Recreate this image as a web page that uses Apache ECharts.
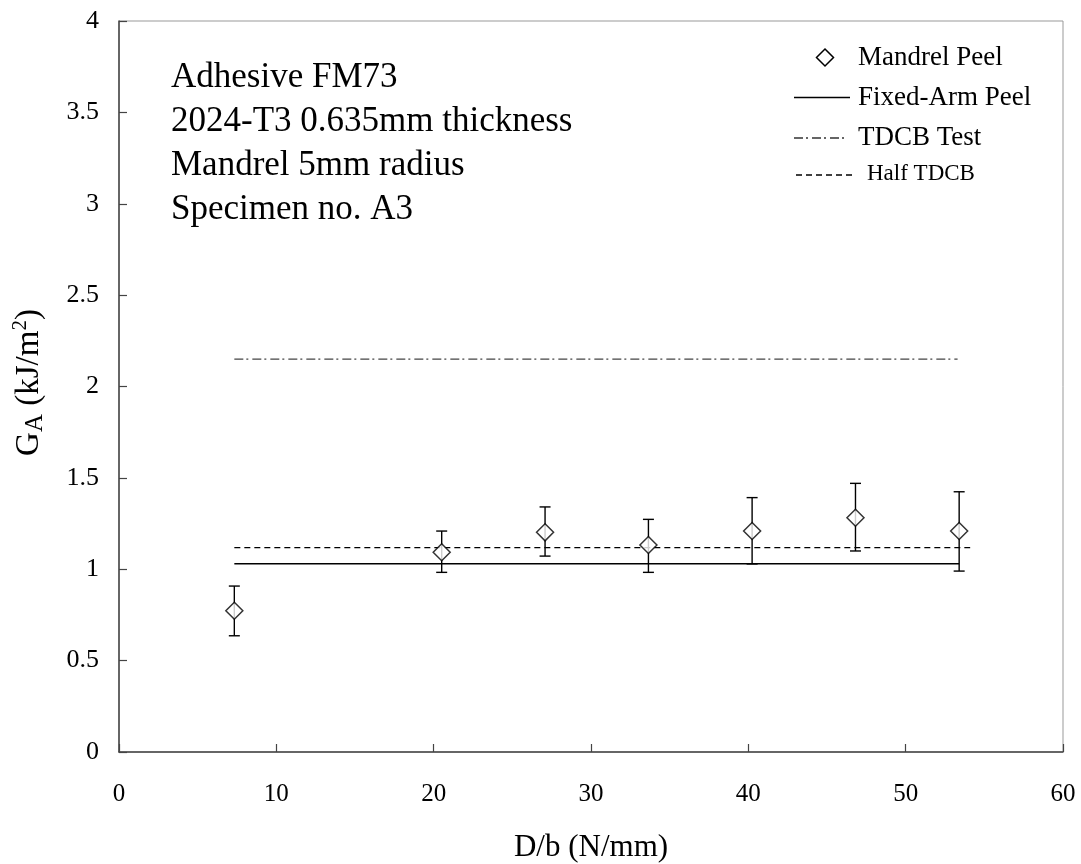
<!DOCTYPE html>
<html>
<head>
<meta charset="utf-8">
<script src="https://cdn.jsdelivr.net/npm/echarts@6/dist/echarts.min.js"></script>
<style>
html,body{margin:0;padding:0;background:#fff;}
#chart{width:1081px;height:864px;}
</style>
</head>
<body>
<div id="chart"></div>
<script>
// ---- data ----
const dbValues   = [7.33, 20.51, 27.08, 33.65, 40.24, 46.81, 53.4];   // D/b (N/mm)
const gaMean     = [0.773, 1.093, 1.202, 1.133, 1.209, 1.282, 1.209]; // Mandrel peel G_A
const gaHigh     = [0.908, 1.209, 1.341, 1.273, 1.392, 1.470, 1.424];
const gaLow      = [0.636, 0.983, 1.072, 0.983, 1.029, 1.100, 0.990];
const fixedArmX  = [7.33, 53.4];  const fixedArmG = 1.03;
const tdcbX      = [7.33, 53.3];  const tdcbG     = 2.15;
const halfTdcbX  = [7.33, 54.1];  const halfTdcbG = 1.118;
const annotation = ['Adhesive FM73', '2024-T3 0.635mm thickness', 'Mandrel 5mm radius', 'Specimen no. A3'];
const legendNames = ['Mandrel Peel', 'Fixed-Arm Peel', 'TDCB Test', 'Half TDCB'];

const FONT = '"Liberation Serif","Times New Roman",serif';
const chart = echarts.init(document.getElementById('chart'));
const diamond = 'path://M0,-1 L1,0 L0,1 L-1,0 Z';

const annText = annotation.map((t, i) => ({
  type: 'text', left: 171, top: 60 + i * 44,
  style: { text: t, font: '35px ' + FONT, fill: '#000' }
}));

const legendGraphics = [
  { type: 'polygon', shape: { points: [[825, 49], [833.5, 57.5], [825, 66], [816.5, 57.5]] },
    style: { fill: '#fff', stroke: '#000', lineWidth: 1.5 } },
  { type: 'text', left: 858, top: 44, style: { text: legendNames[0], font: '27px ' + FONT, fill: '#000' } },
  { type: 'line', shape: { x1: 794, y1: 97.5, x2: 850, y2: 97.5 }, style: { stroke: '#000', lineWidth: 1.3 } },
  { type: 'text', left: 858, top: 84, style: { text: legendNames[1], font: '27px ' + FONT, fill: '#000' } },
  { type: 'line', shape: { x1: 794, y1: 138, x2: 848, y2: 138 }, style: { stroke: '#333', lineWidth: 1.3, lineDash: [9, 3, 2, 4] } },
  { type: 'text', left: 858, top: 124, style: { text: legendNames[2], font: '27px ' + FONT, fill: '#000' } },
  { type: 'line', shape: { x1: 796, y1: 175, x2: 853, y2: 175 }, style: { stroke: '#000', lineWidth: 1.3, lineDash: [6, 4] } },
  { type: 'text', left: 867, top: 162, style: { text: legendNames[3], font: '23px ' + FONT, fill: '#000' } }
];

const option = {
  backgroundColor: '#fff',
  animation: false,
  grid: { left: 119, right: 18, top: 21, bottom: 112, show: true, borderColor: '#999', borderWidth: 1, outerBoundsMode: 'none' },
  xAxis: {
    type: 'value', min: 0, max: 60, interval: 10,
    name: 'D/b (N/mm)', nameLocation: 'middle', nameGap: 80,
    nameTextStyle: { fontFamily: FONT, fontSize: 31, color: '#000' },
    axisLine: { show: true, onZero: false, lineStyle: { color: '#444', width: 1.5 } },
    axisTick: { show: true, inside: true, length: 8, lineStyle: { color: '#444', width: 1.2 } },
    axisLabel: { fontFamily: FONT, fontSize: 25, color: '#000', margin: 30 },
    splitLine: { show: false }
  },
  yAxis: {
    type: 'value', min: 0, max: 4, interval: 0.5,
    name: '{n|G}{sub|A}{n| (kJ/m}{sup|2}{n|)}', nameLocation: 'middle', nameGap: 71, nameRotate: 90,
    nameTextStyle: {
      fontFamily: FONT, fontSize: 33, color: '#000', padding: [0, 0, 0, 8],
      rich: {
        n: { fontFamily: FONT, fontSize: 33, color: '#000', lineHeight: 38 },
        sub: { fontFamily: FONT, fontSize: 25, color: '#000', verticalAlign: 'bottom', lineHeight: 29 },
        sup: { fontFamily: FONT, fontSize: 21, color: '#000', verticalAlign: 'top', lineHeight: 22 }
      }
    },
    axisLine: { show: true, onZero: false, lineStyle: { color: '#444', width: 1.5 } },
    axisTick: { show: true, inside: true, length: 8, lineStyle: { color: '#444', width: 1.2 } },
    axisLabel: { fontFamily: FONT, fontSize: 26, color: '#000', margin: 20 },
    splitLine: { show: false }
  },
  graphic: annText.concat(legendGraphics),
  series: [
    {
      name: 'TDCB Test', type: 'line', symbol: 'none',
      data: tdcbX.map(x => [x, tdcbG]),
      lineStyle: { color: '#444', width: 1.3, type: [9, 3, 2, 4] }, z: 2
    },
    {
      name: 'Half TDCB', type: 'line', symbol: 'none',
      data: halfTdcbX.map(x => [x, halfTdcbG]),
      lineStyle: { color: '#000', width: 1.3, type: [6, 4] }, z: 2
    },
    {
      name: 'Fixed-Arm Peel', type: 'line', symbol: 'none',
      data: fixedArmX.map(x => [x, fixedArmG]),
      lineStyle: { color: '#000', width: 1.3, type: 'solid' }, z: 2
    },
    {
      name: 'error', type: 'custom',
      data: dbValues.map((x, i) => [x, gaLow[i], gaHigh[i]]),
      renderItem: function (params, api) {
        const x = api.value(0);
        const lo = api.coord([x, api.value(1)]);
        const hi = api.coord([x, api.value(2)]);
        const hw = 5.5;
        const st = { stroke: '#000', lineWidth: 1.4 };
        return {
          type: 'group',
          children: [
            { type: 'line', shape: { x1: lo[0], y1: lo[1], x2: hi[0], y2: hi[1] }, style: st },
            { type: 'line', shape: { x1: lo[0] - hw, y1: lo[1], x2: lo[0] + hw, y2: lo[1] }, style: st },
            { type: 'line', shape: { x1: hi[0] - hw, y1: hi[1], x2: hi[0] + hw, y2: hi[1] }, style: st }
          ]
        };
      },
      z: 3
    },
    {
      name: 'Mandrel Peel', type: 'scatter',
      data: dbValues.map((x, i) => [x, gaMean[i]]),
      symbol: diamond, symbolSize: 17,
      itemStyle: { color: '#fff', borderColor: '#000', borderWidth: 1.5 },
      z: 4
    }
  ]
};
chart.setOption(option);
</script>
</body>
</html>
